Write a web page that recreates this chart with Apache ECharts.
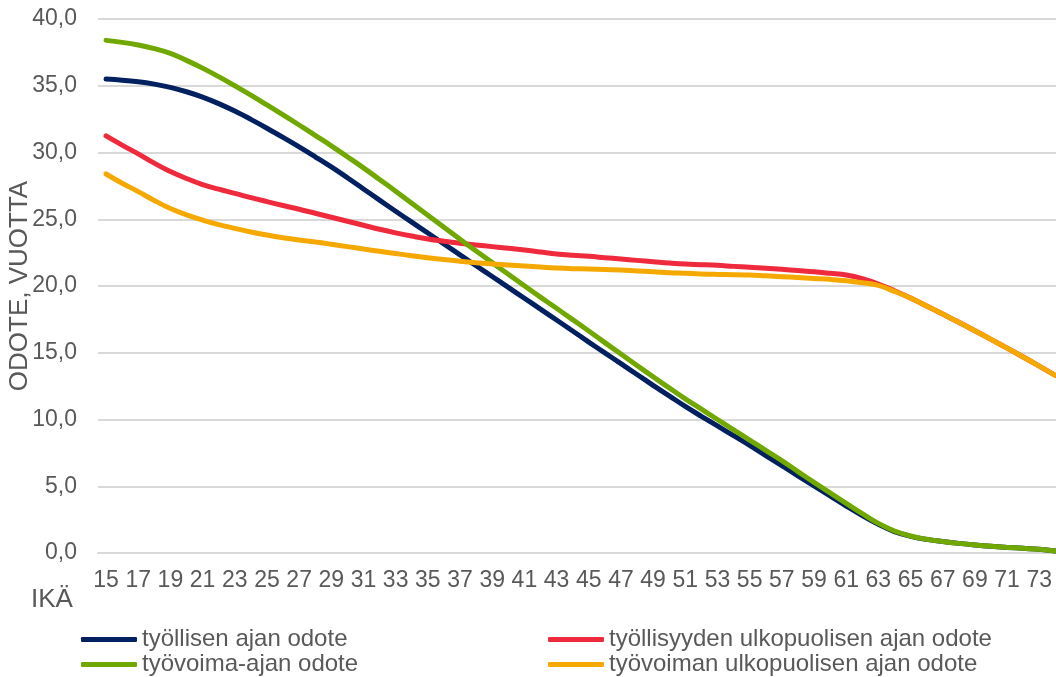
<!DOCTYPE html>
<html>
<head>
<meta charset="utf-8">
<script src="https://cdn.jsdelivr.net/npm/echarts@6/dist/echarts.min.js"></script>
<style>
html,body{margin:0;padding:0;background:#fff;}
#chart{width:1056px;height:677px;}
</style>
</head>
<body>
<div id="chart"></div>
<script>
// Ages 15..74
var ages = [];
for (var a = 15; a <= 74; a++) ages.push(String(a));

var seriesNames = [
  'työllisen ajan odote',
  'työllisyyden ulkopuolisen ajan odote',
  'työvoima-ajan odote',
  'työvoiman ulkopuolisen ajan odote'
];

// työllisen ajan odote
var tyollinen = [
  35.50, 35.42, 35.30, 35.12, 34.88, 34.55, 34.15, 33.66, 33.10, 32.48,
  31.82, 31.13, 30.42, 29.68, 28.92, 28.11, 27.27, 26.43, 25.60, 24.78,
  23.97, 23.15, 22.33, 21.52, 20.71, 19.90, 19.08, 18.27, 17.45, 16.63,
  15.80, 14.99, 14.18, 13.37, 12.56, 11.77, 10.98, 10.24, 9.52, 8.79,
  8.06, 7.30, 6.55, 5.78, 5.02, 4.27, 3.52, 2.80, 2.15, 1.60,
  1.25, 1.02, 0.86, 0.72, 0.60, 0.50, 0.42, 0.35, 0.28, 0.15
];

// työllisyyden ulkopuolisen ajan odote
var tyollisyydenUlko = [
  31.24, 30.55, 29.90, 29.20, 28.57, 28.05, 27.60, 27.25, 26.94, 26.62,
  26.32, 26.03, 25.75, 25.45, 25.15, 24.85, 24.55, 24.25, 23.98, 23.74,
  23.52, 23.35, 23.20, 23.07, 22.95, 22.82, 22.70, 22.55, 22.40, 22.30,
  22.22, 22.12, 22.02, 21.92, 21.82, 21.72, 21.64, 21.60, 21.55, 21.47,
  21.40, 21.33, 21.25, 21.16, 21.07, 20.95, 20.82, 20.55, 20.15, 19.65,
  19.10, 18.50, 17.90, 17.28, 16.65, 16.00, 15.35, 14.68, 14.00, 13.30
];

// työvoima-ajan odote
var tyovoima = [
  38.40, 38.25, 38.05, 37.78, 37.43, 36.90, 36.32, 35.68, 35.00, 34.30,
  33.56, 32.82, 32.06, 31.28, 30.50, 29.68, 28.85, 27.98, 27.10, 26.20,
  25.30, 24.40, 23.50, 22.62, 21.75, 20.88, 20.02, 19.17, 18.33, 17.48,
  16.63, 15.76, 14.90, 14.05, 13.20, 12.37, 11.55, 10.78, 10.00, 9.23,
  8.46, 7.69, 6.92, 6.10, 5.29, 4.50, 3.72, 2.95, 2.22, 1.65,
  1.27, 1.03, 0.86, 0.72, 0.60, 0.50, 0.42, 0.35, 0.28, 0.15
];

// työvoiman ulkopuolisen ajan odote
var tyovoimanUlko = [
  28.39, 27.70, 27.07, 26.40, 25.80, 25.33, 24.94, 24.60, 24.32, 24.05,
  23.82, 23.62, 23.45, 23.30, 23.13, 22.95, 22.77, 22.60, 22.43, 22.27,
  22.12, 21.98, 21.85, 21.74, 21.65, 21.57, 21.50, 21.42, 21.35, 21.30,
  21.27, 21.23, 21.20, 21.13, 21.07, 21.00, 20.95, 20.90, 20.87, 20.85,
  20.82, 20.76, 20.70, 20.64, 20.57, 20.50, 20.40, 20.25, 20.05, 19.60,
  19.10, 18.50, 17.90, 17.28, 16.65, 16.00, 15.35, 14.68, 14.00, 13.30
];

var colors = ['#002060', '#EE2A3C', '#70A800', '#F5A900'];
var font = 'Liberation Sans, Arial, sans-serif';
var textColor = '#595959';

var chart = echarts.init(document.getElementById('chart'), null, {renderer: 'canvas'});

function mkSeries(name, data, color) {
  return {
    name: name,
    type: 'line',
    data: data,
    smooth: 0.4,
    symbol: 'none',
    lineStyle: {width: 5, color: color, cap: 'round', join: 'round'},
    itemStyle: {color: color},
    emphasis: {disabled: true}
  };
}

var legendCommon = {
  orient: 'vertical',
  top: 627,
  itemWidth: 56,
  itemHeight: 5,
  itemGap: 0,
  padding: 0,
  icon: 'roundRect',
  selectedMode: false,
  textStyle: {fontSize: 24, lineHeight: 25, color: textColor, fontFamily: font}
};

chart.setOption({
  animation: false,
  backgroundColor: '#ffffff',
  title: {
    text: 'IKÄ',
    left: 31,
    top: 587,
    padding: 0,
    textStyle: {fontSize: 26, fontWeight: 'normal', color: textColor, fontFamily: font}
  },
  legend: [
    Object.assign({}, legendCommon, {left: 81, data: [seriesNames[0], seriesNames[2]]}),
    Object.assign({}, legendCommon, {left: 548, data: [seriesNames[1], seriesNames[3]]})
  ],
  grid: {left: 98, top: 19, width: 965.4, height: 534, containLabel: false, outerBoundsMode: 'none'},
  xAxis: {
    type: 'category',
    data: ages,
    boundaryGap: true,
    axisLine: {show: true, lineStyle: {color: '#d9d9d9', width: 2}},
    axisTick: {show: false},
    axisLabel: {interval: 1, margin: 16, fontSize: 23, color: textColor, fontFamily: font},
    splitLine: {show: false}
  },
  yAxis: {
    type: 'value',
    min: 0,
    max: 40,
    interval: 5,
    name: 'ODOTE, VUOTTA',
    nameLocation: 'middle',
    nameRotate: 90,
    nameGap: 65,
    nameMoveOverlap: false,
    nameTextStyle: {fontSize: 26, color: textColor, fontFamily: font},
    axisLine: {show: false},
    axisTick: {show: false},
    axisLabel: {
      margin: 21, fontSize: 23, color: textColor, fontFamily: font,
      formatter: function (v) { return v.toFixed(1).replace('.', ','); }
    },
    splitLine: {lineStyle: {color: '#d9d9d9', width: 2}}
  },
  series: [
    mkSeries(seriesNames[0], tyollinen, colors[0]),
    mkSeries(seriesNames[1], tyollisyydenUlko, colors[1]),
    mkSeries(seriesNames[2], tyovoima, colors[2]),
    mkSeries(seriesNames[3], tyovoimanUlko, colors[3])
  ]
});
</script>
</body>
</html>
